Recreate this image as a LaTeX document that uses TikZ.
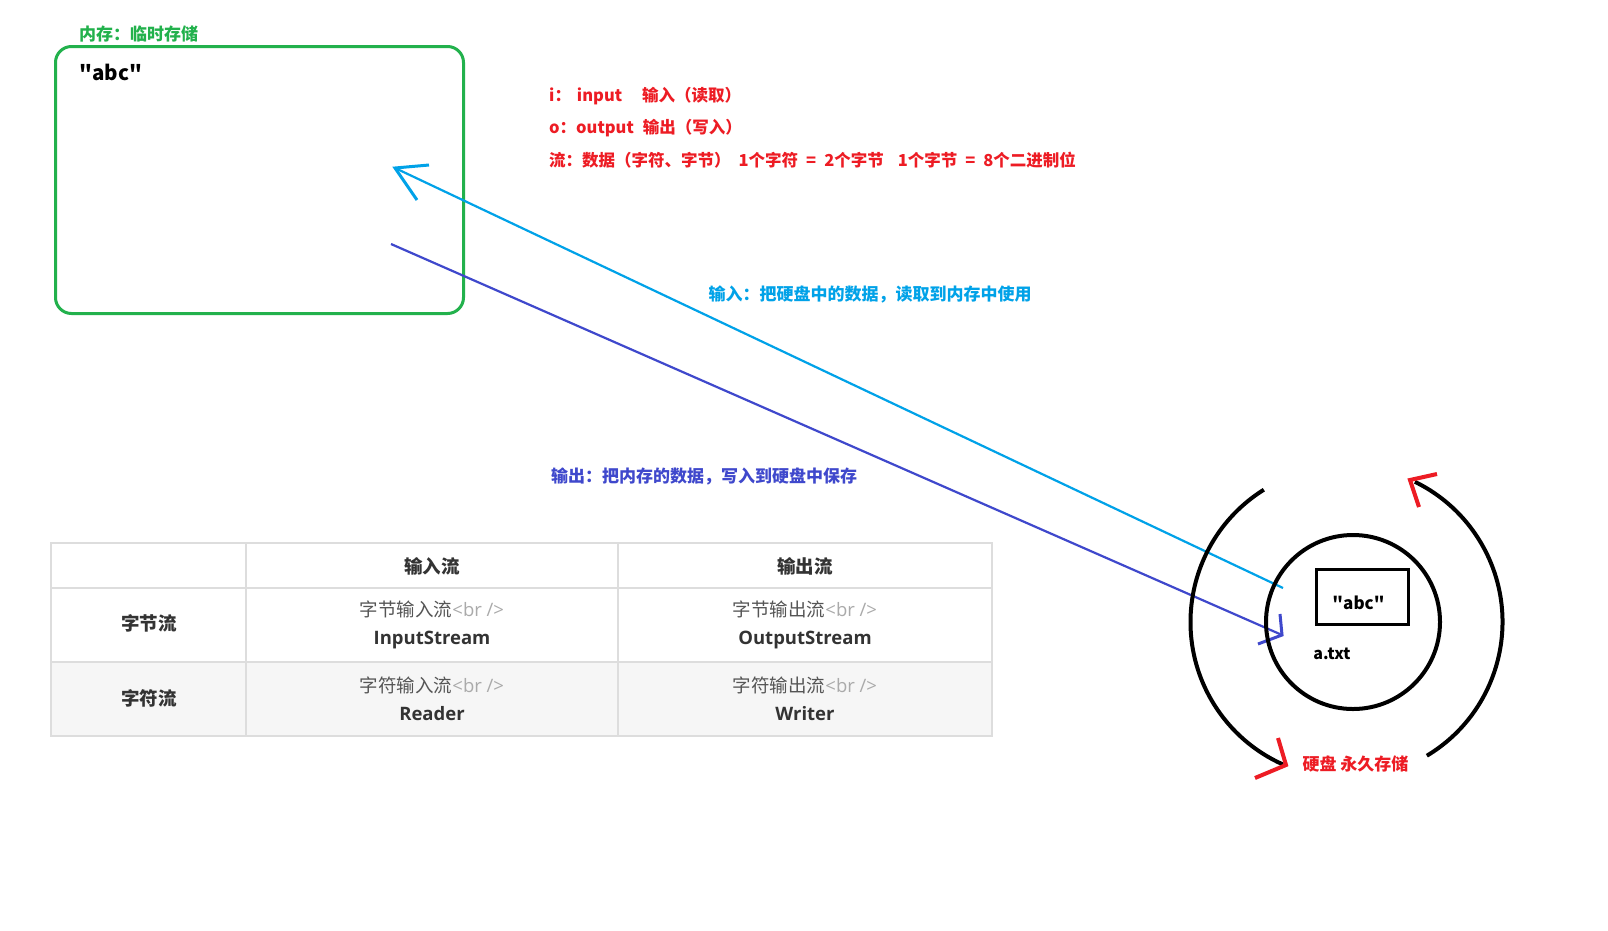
\documentclass[tikz,border=0pt]{standalone}
\usepackage{fontspec}
\setmainfont{Open Sans}
\newfontfamily\cjk{Noto Sans CJK SC}
\newcommand\dq{\char34\relax}
\newcommand\eqsp{\hspace{8pt}=\hspace{8pt}}
\definecolor{memgreen}{HTML}{22B14C}
\definecolor{hotred}{HTML}{ED1C24}
\definecolor{incol}{HTML}{00A2E8}
\definecolor{outcol}{HTML}{3F48CC}
\definecolor{tblline}{HTML}{DDDDDD}
\definecolor{rowgray}{HTML}{F6F6F6}
\definecolor{tbltext}{HTML}{333333}
\definecolor{tblsub}{HTML}{555555}
\definecolor{tblfaint}{HTML}{AAAAAA}
\tikzset{
  lbl/.style={inner sep=0pt, font=\cjk\bfseries\fontsize{17}{20}\selectfont},
  redtxt/.style={inner sep=0pt, anchor=west, text=hotred, font=\cjk\bfseries\fontsize{16.5}{20}\selectfont},
  hdr/.style={inner sep=0pt, text=tbltext, font=\cjk\bfseries\fontsize{18.5}{22}\selectfont},
  cell/.style={inner sep=0pt, align=center, text=tbltext, font=\fontsize{18.5}{28}\selectfont},
  thick4/.style={line width=4pt},
}
\newcommand\subl[1]{{\cjk\color{tblsub}#1}{\color{tblfaint}<br />}}
\begin{document}
\begin{tikzpicture}[x=1pt,y=-1pt]
\useasboundingbox (0,0) rectangle (1608,930);
\fill[white] (0,0) rectangle (1608,930);

% memory box
\node[draw=memgreen, line width=3pt, rounded corners=16pt, minimum width=408pt, minimum height=267pt, anchor=north west, inner sep=0pt] (mem) at (54,45) {};
\node[lbl, anchor=west, text=memgreen] (memlabel) at (79,34) {内存：临时存储};
\node[inner sep=0pt, anchor=west, font=\cjk\bfseries\fontsize{20.5}{24}\selectfont] (memabc) at (79,72) {\dq abc\dq};

% red notes
\node[redtxt] (note1) at (549,96) {i：\hspace{6pt}input\hspace{20pt}输入（读取）};
\node[redtxt] (note2) at (549,128) {o：output\hspace{9pt}输出（写入）};
\node[redtxt] (note3) at (549,160) {流：数据（字符、字节）\hspace{8pt}1个字符\eqsp 2个字节\hspace{14pt}1个字节\eqsp 8个二进制位};

% arrows
\coordinate (inTail) at (1283,588);
\coordinate (inTip) at (395,168);
\coordinate (inB1) at (429,165);
\coordinate (inB2) at (417,200);
\draw[incol, line width=2.2pt] (inTail) -- (inTip);
\draw[incol, line width=3pt] (inB1) -- (inTip) -- (inB2);

\coordinate (outTail) at (391,244);
\coordinate (outTip) at (1282,635);
\coordinate (outB1) at (1280,614);
\coordinate (outB2) at (1258,644);
\draw[outcol, line width=2.2pt] (outTail) -- (outTip);
\draw[outcol, line width=3pt] (outB1) -- (outTip) -- (outB2);

\node[lbl, text=incol] (inlabel) at (870,294) {输入：把硬盘中的数据，读取到内存中使用};
\node[lbl, text=outcol] (outlabel) at (704,476) {输出：把内存的数据，写入到硬盘中保存};

% disk
\coordinate (disk) at (1346.5,622);
\draw[thick4] (disk) ++(-122:156) arc[start angle=-122, end angle=-246, radius=156];
\draw[thick4] (disk) ++(59:156) arc[start angle=59, end angle=-64, radius=156];
\coordinate (rTip1) at (1410,480);
\coordinate (rB11) at (1437,474);
\coordinate (rB12) at (1419,507);
\draw[hotred, thick4] (rB11) -- (rTip1) -- (rB12);
\coordinate (rTip2) at (1286,765);
\coordinate (rB21) at (1278,738);
\coordinate (rB22) at (1255,778);
\draw[hotred, thick4] (rB21) -- (rTip2) -- (rB22);

\node[circle, draw, thick4, minimum size=174pt, inner sep=0pt] (file) at (1353,622) {};
\node[draw, line width=3pt, minimum width=92pt, minimum height=55pt, inner sep=0pt] (filebox) at (1362,596.5) {};
\node[inner sep=0pt, font=\cjk\bfseries\fontsize{17}{20}\selectfont] (fileabc) at (1358.5,603) {\dq abc\dq};
\node[inner sep=0pt, font=\cjk\bfseries\fontsize{16}{20}\selectfont] (filename) at (1332,654) {a.txt};
\node[lbl, text=hotred] (disklabel) at (1355.5,764) {硬盘 永久存储};

% table
\fill[rowgray] (51,662) rectangle (992,736);
\draw[tblline, line width=2pt] (51,543) rectangle (992,736);
\draw[tblline, line width=2pt] (51,588) -- (992,588) (51,662) -- (992,662) (246,543) -- (246,736) (618,543) -- (618,736);

\node[hdr] (h1) at (432,566) {输入流};
\node[hdr] (h2) at (805,566) {输出流};
\node[hdr] (r1) at (149,623) {字节流};
\node[hdr] (r2) at (149,698) {字符流};
\node[cell] (c11) at (432,625) {\subl{字节输入流}\\ \bfseries InputStream};
\node[cell] (c12) at (805,625) {\subl{字节输出流}\\ \bfseries OutputStream};
\node[cell] (c21) at (432,699) {\subl{字符输入流}\\ \bfseries Reader};
\node[cell] (c22) at (805,699) {\subl{字符输出流}\\ \bfseries Writer};
\end{tikzpicture}
\end{document}
